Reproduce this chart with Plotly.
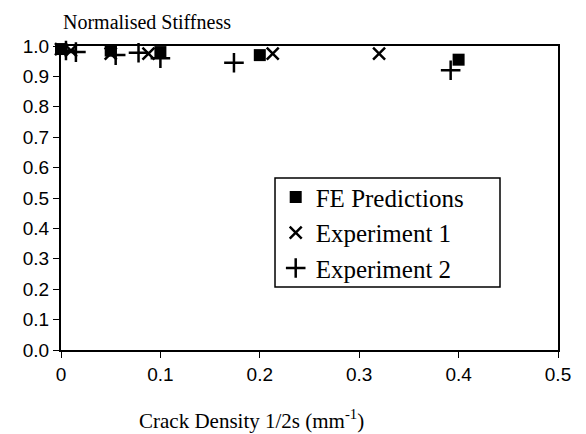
import plotly.graph_objects as go

# --- data ---
fe_x = [0.0, 0.05, 0.1, 0.2, 0.4]
fe_y = [0.99, 0.985, 0.98, 0.97, 0.955]

exp1_x = [0.0, 0.01, 0.05, 0.088, 0.213, 0.32]
exp1_y = [0.99, 0.985, 0.975, 0.975, 0.975, 0.975]

exp2_x = [0.005, 0.015, 0.055, 0.078, 0.1, 0.174, 0.392]
exp2_y = [0.985, 0.98, 0.97, 0.978, 0.96, 0.945, 0.92]

x_ticks = [0, 0.1, 0.2, 0.3, 0.4, 0.5]
x_tick_labels = ["0", "0.1", "0.2", "0.3", "0.4", "0.5"]
y_ticks = [0.0, 0.1, 0.2, 0.3, 0.4, 0.5, 0.6, 0.7, 0.8, 0.9, 1.0]

serif = "Liberation Serif, Times New Roman, serif"
sans = "Liberation Sans, Arial, sans-serif"

fig = go.Figure()
fig.add_trace(go.Scatter(
    x=fe_x, y=fe_y, mode="markers", name="FE Predictions",
    marker=dict(symbol="square", size=12, color="black"),
    cliponaxis=False))
fig.add_trace(go.Scatter(
    x=exp1_x, y=exp1_y, mode="markers", name="Experiment 1",
    marker=dict(symbol="x-thin-open", size=12, color="black",
                line=dict(color="black", width=2.5)),
    cliponaxis=False))
fig.add_trace(go.Scatter(
    x=exp2_x, y=exp2_y, mode="markers", name="Experiment 2",
    marker=dict(symbol="cross-thin-open", size=14, color="black",
                line=dict(color="black", width=2.5)),
    cliponaxis=False))

fig.update_layout(
    width=578, height=426,
    margin=dict(l=53, r=28, t=38, b=84),
    paper_bgcolor="white", plot_bgcolor="white",
    showlegend=True,
    legend=dict(
        x=0.432, y=0.578, xanchor="left", yanchor="top",
        bgcolor="rgba(0,0,0,0)", borderwidth=0,
        font=dict(family=serif, size=25, color="black"),
        itemwidth=30, tracegroupgap=0,
    ),
    xaxis=dict(
        range=[0, 0.5], tickvals=x_ticks, ticktext=x_tick_labels,
        showgrid=False, zeroline=False,
        showline=True, linecolor="black", linewidth=2, mirror=True,
        ticks="outside", ticklen=6, tickwidth=1, tickcolor="black",
        tickfont=dict(family=sans, size=19, color="black"),
    ),
    yaxis=dict(
        range=[0, 1.0], tickvals=y_ticks, tickformat=".1f",
        showgrid=False, zeroline=False,
        showline=True, linecolor="black", linewidth=2, mirror=True,
        ticks="outside", ticklen=6, tickwidth=1, tickcolor="black",
        tickfont=dict(family=sans, size=19, color="black"),
    ),
    shapes=[dict(
        type="rect", xref="paper", yref="paper",
        x0=0.4306, x1=0.8833, y0=0.207, y1=0.566,
        line=dict(color="black", width=1.5), fillcolor="rgba(0,0,0,0)",
    )],
    annotations=[
        dict(text="Normalised Stiffness", xref="paper", yref="paper",
             x=0.0, y=1.079, xanchor="left", yanchor="middle",
             showarrow=False, font=dict(family=serif, size=20, color="black")),
        dict(text="Crack Density 1/2s (mm<sup>-1</sup>)", xref="paper", yref="paper",
             x=0.384, y=-0.23, xanchor="center", yanchor="middle",
             showarrow=False, font=dict(family=serif, size=21, color="black")),
    ],
)

fig.write_html("out.html")
